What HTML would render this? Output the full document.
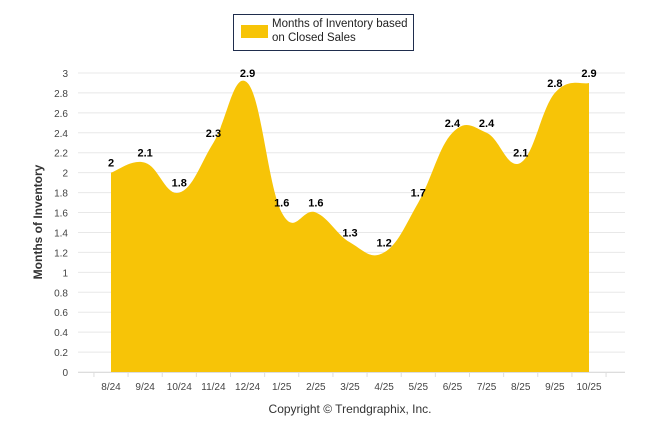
<!DOCTYPE html>
<html><head><meta charset="utf-8"><style>
body{margin:0;background:#fff;font-family:"Liberation Sans",Arial,sans-serif}
</style></head><body>
<svg width="646" height="434" viewBox="0 0 646 434">
<g>
<rect x="233.5" y="14.5" width="180" height="36" fill="#fff" stroke="#1f2d4d" stroke-width="1"/>
<rect x="241" y="25" width="27" height="13" fill="#f7c407"/>
<text x="272" y="27" font-size="11.5" fill="#222">Months of Inventory based</text>
<text x="272" y="41" font-size="11.5" fill="#222">on Closed Sales</text>
</g>
<g id="grid"></g>
<path id="area" fill="#f7c407"/>
<g id="axes"></g>
<g id="labels"></g>
<text x="42" y="222" font-size="12" font-weight="bold" fill="#333" text-anchor="middle" transform="rotate(-90 42 222)">Months of Inventory</text>
<text x="350" y="413" font-size="12" fill="#333" text-anchor="middle">Copyright © Trendgraphix, Inc.</text>
</svg>
<script>
const categories=["8/24","9/24","10/24","11/24","12/24","1/25","2/25","3/25","4/25","5/25","6/25","7/25","8/25","9/25","10/25"];
const values=[2,2.1,1.8,2.3,2.9,1.6,1.6,1.3,1.2,1.7,2.4,2.4,2.1,2.8,2.9];
const yTicks=[0,0.2,0.4,0.6,0.8,1,1.2,1.4,1.6,1.8,2,2.2,2.4,2.6,2.8,3];
const NS="http://www.w3.org/2000/svg";
const x0=111,x1=589,y0=372,y1=73;
const xs=i=>x0+(x1-x0)*i/(categories.length-1);
const ys=v=>y0-(y0-y1)*v/3;
function mk(t,a,p){const e=document.createElementNS(NS,t);for(const k in a)e.setAttribute(k,a[k]);p.appendChild(e);return e;}
const grid=document.getElementById('grid'),axes=document.getElementById('axes'),labels=document.getElementById('labels');
yTicks.forEach(v=>{
 const l=mk('line',{x1:78,x2:625,y1:ys(v),y2:ys(v),stroke:'#e8e8e8','stroke-width':1},grid);
 
 
 const t=mk('text',{x:68,y:ys(v)+4,'font-size':10,fill:'#444','text-anchor':'end'},axes);
 t.textContent=String(v);
 
 
});
const ax=mk('line',{x1:78,x2:625,y1:y0+0.5,y2:y0+0.5,stroke:'#ddd'},axes);


const step=(x1-x0)/(categories.length-1);
for(let i=0;i<=categories.length;i++){
 const tx=xs(i)-step/2;
 const tk=mk('line',{x1:tx,x2:tx,y1:y0,y2:y0+5,stroke:'#ddd'},axes);
 
 
}
categories.forEach((c,i)=>{
 const t=mk('text',{x:xs(i),y:390,'font-size':10,fill:'#444','text-anchor':'middle'},axes);
 t.textContent=c;
 
 
});
const pts=values.map((v,i)=>[xs(i),ys(v)]);
let d=`M${pts[0][0]},${y0} L${pts[0][0]},${pts[0][1]}`;
for(let i=0;i<pts.length-1;i++){
 const p0=pts[Math.max(0,i-1)],p1=pts[i],p2=pts[i+1],p3=pts[Math.min(pts.length-1,i+2)];
 const s=0.2;
 const c1=[p1[0]+(p2[0]-p0[0])*s,p1[1]+(p2[1]-p0[1])*s];
 const c2=[p2[0]-(p3[0]-p1[0])*s,p2[1]-(p3[1]-p1[1])*s];
 d+=` C${c1[0]},${c1[1]} ${c2[0]},${c2[1]} ${p2[0]},${p2[1]}`;
}
d+=` L${pts[pts.length-1][0]},${y0} Z`;
document.getElementById('area').setAttribute('d',d);
values.forEach((v,i)=>{
 const t=mk('text',{x:xs(i),y:ys(v)-6,'font-size':11,'font-weight':'bold',fill:'#000','text-anchor':'middle'},labels);
 t.textContent=String(v);
 
 
});
</script>
</body></html>
